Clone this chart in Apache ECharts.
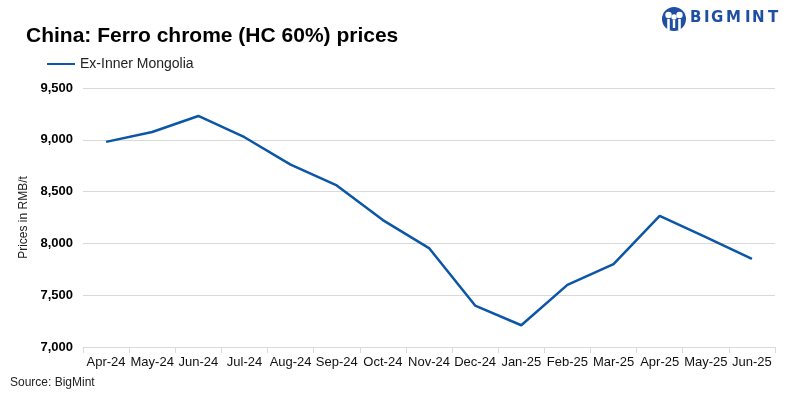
<!DOCTYPE html>
<html>
<head>
<meta charset="utf-8">
<script src="https://cdn.jsdelivr.net/npm/echarts@6/dist/echarts.min.js"></script>
<style>
  html, body { margin: 0; padding: 0; background: #fff; }
  #chart { width: 798px; height: 399px; }
</style>
</head>
<body>
<div id="chart"></div>
<script>
// months on the x axis
const months = ['Apr-24', 'May-24', 'Jun-24', 'Jul-24', 'Aug-24', 'Sep-24', 'Oct-24', 'Nov-24',
  'Dec-24', 'Jan-25', 'Feb-25', 'Mar-25', 'Apr-25', 'May-25', 'Jun-25']
// Ex-Inner Mongolia price, RMB/t
const innerMongolia = [8980, 9075, 9230, 9025, 8760, 8560, 8225, 7955, 7400, 7210, 7600, 7800, 8265, 8060, 7850]

const lineColor = '#0c56a8'
const logoBlue = '#1e4fa3'
const font = 'Liberation Sans'

// logo letters, placed one by one to get the wide spacing
const logoLetters = [['B', 690], ['I', 704], ['G', 711], ['M', 726], ['I', 745], ['N', 752], ['T', 768]]

const chart = echarts.init(document.getElementById('chart'))
chart.setOption({
  animation: false,
  textStyle: { fontFamily: font },
  title: {
    text: 'China: Ferro chrome (HC 60%) prices',
    left: 21, top: 21,
    textStyle: { fontSize: 21, fontWeight: 'bold', color: '#000', fontFamily: font }
  },
  legend: {
    left: 42, top: 52,
    itemWidth: 28, itemHeight: 2,
    icon: 'rect',
    textStyle: { fontSize: 14, color: '#222' },
    data: ['Ex-Inner Mongolia']
  },
  grid: { left: 83, right: 23, top: 88, bottom: 52 },
  xAxis: {
    type: 'category',
    data: months,
    boundaryGap: true,
    axisLine: { lineStyle: { color: '#d9d9d9', width: 1 } },
    axisTick: { show: true, length: 6, lineStyle: { color: '#d9d9d9' } },
    axisLabel: { interval: 0, color: '#111', fontSize: 13, margin: 9 }
  },
  yAxis: {
    type: 'value',
    min: 7000, max: 9500, interval: 500,
    name: 'Prices in RMB/t',
    nameLocation: 'middle',
    nameGap: 53,
    nameTextStyle: { fontSize: 12, color: '#222' },
    axisLine: { show: false },
    axisTick: { show: false },
    splitLine: { lineStyle: { color: '#d9d9d9' } },
    axisLabel: {
      color: '#000', fontSize: 13, fontWeight: 'bold', margin: 10,
      formatter: v => v.toLocaleString('en-US')
    }
  },
  series: [{
    name: 'Ex-Inner Mongolia',
    type: 'line',
    data: innerMongolia,
    symbol: 'none',
    lineStyle: { color: lineColor, width: 2.5 },
    itemStyle: { color: lineColor }
  }],
  graphic: [
    {
      type: 'text', left: 10, top: 377,
      style: { text: 'Source: BigMint', fontSize: 12, fill: '#222', fontFamily: font }
    },
    {
      type: 'group', left: 662, top: 7,
      children: [
        { type: 'circle', shape: { cx: 12, cy: 12, r: 12 }, style: { fill: logoBlue } },
        { type: 'circle', shape: { cx: 6.5, cy: 8, r: 3.2 }, style: { fill: '#fff' } },
        { type: 'circle', shape: { cx: 17.5, cy: 8, r: 3.2 }, style: { fill: '#fff' } },
        { type: 'circle', shape: { cx: 12, cy: 10, r: 2.7 }, style: { fill: '#fff' } },
        { type: 'rect', shape: { x: 5.2, y: 12, width: 2.6, height: 11 }, style: { fill: '#fff' } },
        { type: 'rect', shape: { x: 16.2, y: 12, width: 2.6, height: 11 }, style: { fill: '#fff' } },
        { type: 'rect', shape: { x: 10.8, y: 13, width: 2.4, height: 8 }, style: { fill: '#fff' } }
      ]
    }
  ].concat(logoLetters.map(([ch, x]) => ({
    type: 'text', left: x, top: 11,
    style: { text: ch, fontSize: 15, fontWeight: 'bold', fill: logoBlue, fontFamily: 'DejaVu Sans' }
  })))
})
</script>
</body>
</html>
